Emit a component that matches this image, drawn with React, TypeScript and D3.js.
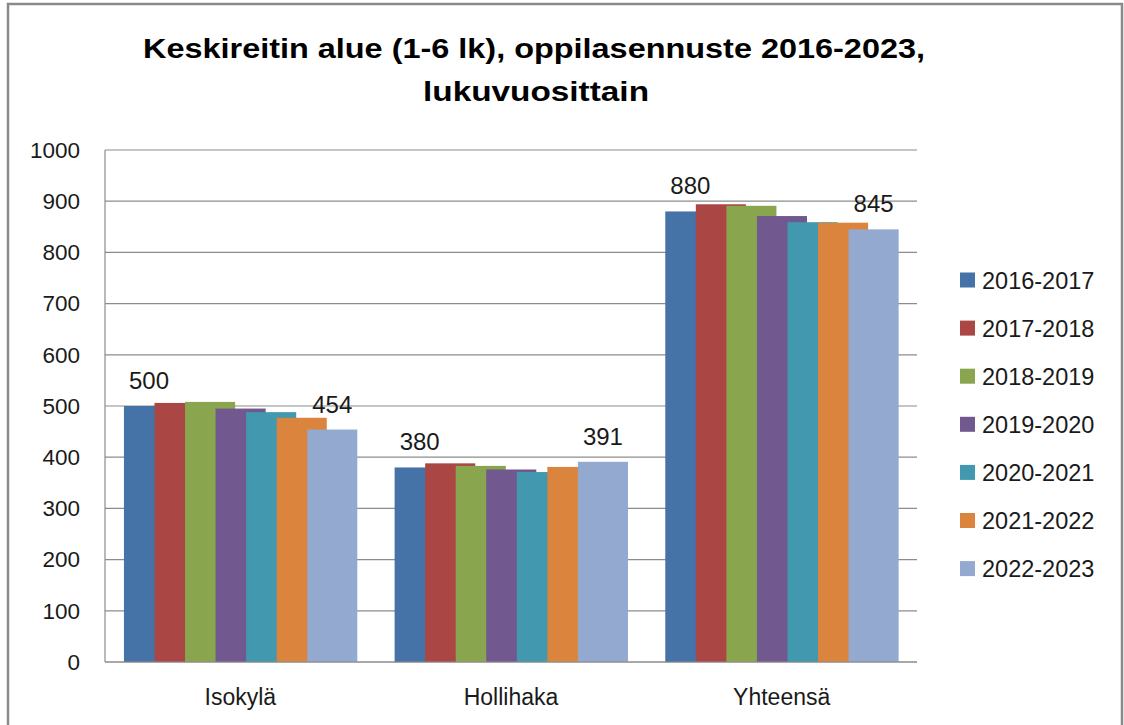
import React from "react";
import * as d3 from "d3";

const categories = ["Isokylä", "Hollihaka", "Yhteensä"];
const seriesNames = ["2016-2017", "2017-2018", "2018-2019", "2019-2020", "2020-2021", "2021-2022", "2022-2023"];
const isokyla = [500, 506, 508, 495, 488, 477, 454];
const hollihaka = [380, 388, 383, 376, 371, 381, 391];
const yhteensa = [880, 894, 891, 871, 859, 858, 845];
const colors = ["#4572A7", "#AA4643", "#89A54E", "#71588F", "#4198AF", "#DB843D", "#93A9CF"];
const yTicks = [0, 100, 200, 300, 400, 500, 600, 700, 800, 900, 1000];
const titleLines = ["Keskireitin alue (1-6 lk), oppilasennuste 2016-2023,", "lukuvuosittain"];

const values = [isokyla, hollihaka, yhteensa];
const FONT = "'Liberation Sans', Arial, sans-serif";

export default function App() {
  const W = 1124, H = 725;
  const left = 105, right = 917, top = 150, bottom = 662;
  const x0 = d3.scaleBand<string>().domain(categories).range([left, right]);
  const bw = x0.bandwidth();
  const x1 = d3.scaleBand<string>().domain(seriesNames).range([0, 0.79 * bw]);
  const barW = 0.185 * bw;
  const groupOffset = 0.07 * bw;
  const y = d3.scaleLinear().domain([0, 1000]).range([bottom, top]);

  const bars: JSX.Element[] = [];
  const labels: JSX.Element[] = [];
  seriesNames.forEach((s, si) => {
    categories.forEach((c, ci) => {
      const v = values[ci][si];
      const bx = (x0(c) as number) + groupOffset + (x1(s) as number);
      bars.push(
        <rect key={`b-${si}-${ci}`} x={bx} y={y(v)} width={barW} height={y(0) - y(v)} fill={colors[si]} />
      );
      if (si === 0 || si === seriesNames.length - 1) {
        labels.push(
          <text key={`l-${si}-${ci}`} x={bx + barW / 2} y={y(v) - 17} textAnchor="middle" fontSize={24} fill="#1a1a1a">
            {v}
          </text>
        );
      }
    });
  });

  return (
    <svg width={W} height={H} style={{ position: "absolute", left: 0, top: 0 }} fontFamily={FONT}>
      <rect x={0} y={0} width={W} height={H} fill="#fff" />
      <path d={`M8,${H + 5} V4 H1122 V${H + 5}`} fill="none" stroke="#8a8a8a" strokeWidth={2.5} />
      <text x={534} y={58} textAnchor="middle" fontSize={28} fontWeight="bold" textLength={782} lengthAdjust="spacingAndGlyphs" fill="#000">
        {titleLines[0]}
      </text>
      <text x={536} y={101} textAnchor="middle" fontSize={28} fontWeight="bold" textLength={226} lengthAdjust="spacingAndGlyphs" fill="#000">
        {titleLines[1]}
      </text>
      {yTicks.map((t) => (
        <g key={t}>
          <line x1={left} x2={right} y1={y(t)} y2={y(t)} stroke="#8c8c8c" strokeWidth={1.2} />
          <text x={80} y={y(t)} dy="0.35em" textAnchor="end" fontSize={22.5} fill="#1a1a1a">
            {t}
          </text>
        </g>
      ))}
      <line x1={left} x2={left} y1={top} y2={bottom} stroke="#8c8c8c" strokeWidth={1.2} />
      {bars}
      <line x1={left} x2={right} y1={bottom} y2={bottom} stroke="#8c8c8c" strokeWidth={1.2} />
      {labels}
      {categories.map((c) => (
        <text key={c} x={(x0(c) as number) + bw / 2} y={705} textAnchor="middle" fontSize={23} fill="#1a1a1a">
          {c}
        </text>
      ))}
      {seriesNames.map((s, i) => {
        const cy = 280 + i * 48.1;
        return (
          <g key={s}>
            <rect x={960} y={cy - 7.5} width={15} height={15} fill={colors[i]} />
            <text x={982} y={cy + 8.5} fontSize={23.5} fill="#1a1a1a">
              {s}
            </text>
          </g>
        );
      })}
    </svg>
  );
}
